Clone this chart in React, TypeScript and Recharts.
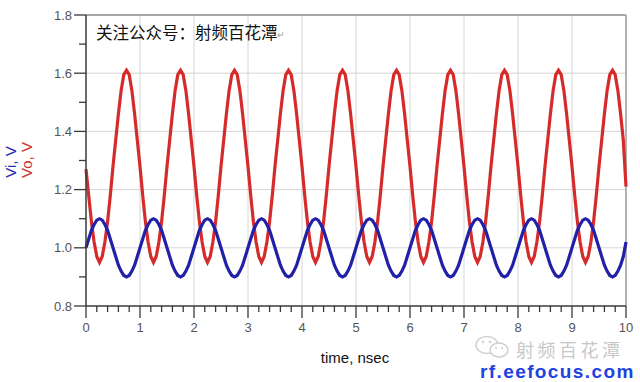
import { Line, LineChart, ReferenceLine, XAxis, YAxis } from "recharts";

// sample spacing of the waveforms, nsec
const timeStep = 0.05;

// Vo, V (red) - one row per nsec
const vo = [
  1.27, 1.18, 1.09, 1.02, 0.97, 0.95, 0.97, 1.02, 1.09, 1.18, 1.28, 1.37, 1.46, 1.54, 1.595, 1.61, 1.595, 1.54, 1.46, 1.37,
  1.28, 1.18, 1.09, 1.02, 0.97, 0.95, 0.97, 1.02, 1.09, 1.18, 1.28, 1.37, 1.46, 1.54, 1.595, 1.61, 1.595, 1.54, 1.46, 1.37,
  1.28, 1.18, 1.09, 1.02, 0.97, 0.95, 0.97, 1.02, 1.09, 1.18, 1.28, 1.37, 1.46, 1.54, 1.595, 1.61, 1.595, 1.54, 1.46, 1.37,
  1.28, 1.18, 1.09, 1.02, 0.97, 0.95, 0.97, 1.02, 1.09, 1.18, 1.28, 1.37, 1.46, 1.54, 1.595, 1.61, 1.595, 1.54, 1.46, 1.37,
  1.28, 1.18, 1.09, 1.02, 0.97, 0.95, 0.97, 1.02, 1.09, 1.18, 1.28, 1.37, 1.46, 1.54, 1.595, 1.61, 1.595, 1.54, 1.46, 1.37,
  1.28, 1.18, 1.09, 1.02, 0.97, 0.95, 0.97, 1.02, 1.09, 1.18, 1.28, 1.37, 1.46, 1.54, 1.595, 1.61, 1.595, 1.54, 1.46, 1.37,
  1.28, 1.18, 1.09, 1.02, 0.97, 0.95, 0.97, 1.02, 1.09, 1.18, 1.28, 1.37, 1.46, 1.54, 1.595, 1.61, 1.595, 1.54, 1.46, 1.37,
  1.28, 1.18, 1.09, 1.02, 0.97, 0.95, 0.97, 1.02, 1.09, 1.18, 1.28, 1.37, 1.46, 1.54, 1.595, 1.61, 1.595, 1.54, 1.46, 1.37,
  1.28, 1.18, 1.09, 1.02, 0.97, 0.95, 0.97, 1.02, 1.09, 1.18, 1.28, 1.37, 1.46, 1.54, 1.595, 1.61, 1.595, 1.54, 1.46, 1.37,
  1.28, 1.18, 1.09, 1.02, 0.97, 0.95, 0.97, 1.02, 1.09, 1.18, 1.28, 1.37, 1.46, 1.54, 1.595, 1.61, 1.595, 1.54, 1.46, 1.37,
  1.21,
];

// Vi, V (blue)
const vi = [
  1.0, 1.03, 1.06, 1.08, 1.095, 1.1, 1.095, 1.08, 1.06, 1.03, 1.0, 0.97, 0.94, 0.92, 0.905, 0.9, 0.905, 0.92, 0.94, 0.97,
  1.0, 1.03, 1.06, 1.08, 1.095, 1.1, 1.095, 1.08, 1.06, 1.03, 1.0, 0.97, 0.94, 0.92, 0.905, 0.9, 0.905, 0.92, 0.94, 0.97,
  1.0, 1.03, 1.06, 1.08, 1.095, 1.1, 1.095, 1.08, 1.06, 1.03, 1.0, 0.97, 0.94, 0.92, 0.905, 0.9, 0.905, 0.92, 0.94, 0.97,
  1.0, 1.03, 1.06, 1.08, 1.095, 1.1, 1.095, 1.08, 1.06, 1.03, 1.0, 0.97, 0.94, 0.92, 0.905, 0.9, 0.905, 0.92, 0.94, 0.97,
  1.0, 1.03, 1.06, 1.08, 1.095, 1.1, 1.095, 1.08, 1.06, 1.03, 1.0, 0.97, 0.94, 0.92, 0.905, 0.9, 0.905, 0.92, 0.94, 0.97,
  1.0, 1.03, 1.06, 1.08, 1.095, 1.1, 1.095, 1.08, 1.06, 1.03, 1.0, 0.97, 0.94, 0.92, 0.905, 0.9, 0.905, 0.92, 0.94, 0.97,
  1.0, 1.03, 1.06, 1.08, 1.095, 1.1, 1.095, 1.08, 1.06, 1.03, 1.0, 0.97, 0.94, 0.92, 0.905, 0.9, 0.905, 0.92, 0.94, 0.97,
  1.0, 1.03, 1.06, 1.08, 1.095, 1.1, 1.095, 1.08, 1.06, 1.03, 1.0, 0.97, 0.94, 0.92, 0.905, 0.9, 0.905, 0.92, 0.94, 0.97,
  1.0, 1.03, 1.06, 1.08, 1.095, 1.1, 1.095, 1.08, 1.06, 1.03, 1.0, 0.97, 0.94, 0.92, 0.905, 0.9, 0.905, 0.92, 0.94, 0.97,
  1.0, 1.03, 1.06, 1.08, 1.095, 1.1, 1.095, 1.08, 1.06, 1.03, 1.0, 0.97, 0.94, 0.92, 0.905, 0.9, 0.905, 0.92, 0.94, 0.97,
  1.02,
];

const xMajorTicks = [0, 1, 2, 3, 4, 5, 6, 7, 8, 9, 10];
const yMajorTicks = [0.8, 1.0, 1.2, 1.4, 1.6, 1.8];
const xGridLines = [1, 2, 3, 4, 5, 6, 7, 8, 9];
const yGridLines = [1.0, 1.2, 1.4, 1.6];

const round = (v: number) => Math.round(v * 1000) / 1000;

// minor ticks: 4 per nsec on x, 1 per 0.2 V on y
const xTicks = xMajorTicks.flatMap((m, i) =>
  i === xMajorTicks.length - 1 ? [m] : [0, 0.2, 0.4, 0.6, 0.8].map((d) => round(m + d))
);
const yTicks = yMajorTicks.flatMap((m, i) =>
  i === yMajorTicks.length - 1 ? [m] : [m, round(m + 0.1)]
);

const data = vo.map((v, i) => ({ t: round(i * timeStep), vo: v, vi: vi[i] }));

const AXIS = "#3a3a3a";
const LABEL = "#555";
const FONT = "'Liberation Sans', Arial, sans-serif";

function XTick(props: any) {
  const { x, y, payload } = props;
  const v = payload.value as number;
  const major = Math.abs(v - Math.round(v)) < 1e-6;
  return (
    <g>
      <line x1={x} x2={x} y1={y} y2={y + (major ? 12 : 6)} stroke={AXIS} strokeWidth={1.3} />
      {major && (
        <text x={x} y={y + 26} textAnchor="middle" fontSize={13} fill={LABEL} fontFamily={FONT}>
          {Math.round(v)}
        </text>
      )}
    </g>
  );
}

function YTick(props: any) {
  const { x, y, payload } = props;
  const v = payload.value as number;
  const major = Math.abs(v * 5 - Math.round(v * 5)) < 1e-6;
  return (
    <g>
      <line x1={x} x2={x - (major ? 12 : 7)} y1={y} y2={y} stroke={AXIS} strokeWidth={1.3} />
      {major && (
        <text x={x - 14} y={y + 4.5} textAnchor="end" fontSize={13} fill={LABEL} fontFamily={FONT}>
          {v.toFixed(1)}
        </text>
      )}
    </g>
  );
}

export default function App() {
  return (
    <div style={{ position: "absolute", left: 0, top: 0, width: 640, height: 382, background: "#fff" }}>
      <LineChart width={640} height={382} data={data} margin={{ top: 15, right: 14, left: 26, bottom: 36 }}>
        {xGridLines.map((g) => (
          <ReferenceLine key={`x${g}`} x={g} stroke="#d6d6d6" strokeWidth={1} />
        ))}
        {yGridLines.map((g) => (
          <ReferenceLine key={`y${g}`} y={g} stroke="#d6d6d6" strokeWidth={1} />
        ))}
        <ReferenceLine y={1.8} stroke="#8a8a8a" strokeWidth={1.5} />
        <ReferenceLine x={10} stroke="#9a9a9a" strokeWidth={1.5} />
        <XAxis
          dataKey="t"
          type="number"
          domain={[0, 10]}
          ticks={xTicks}
          interval={0}
          tickSize={0}
          tickMargin={0}
          tickLine={false}
          tick={(p: any) => <XTick {...p} />}
          axisLine={{ stroke: AXIS, strokeWidth: 1.5 }}
          height={40}
        />
        <YAxis
          type="number"
          domain={[0.8, 1.8]}
          allowDataOverflow
          ticks={yTicks}
          interval={0}
          tickSize={0}
          tickMargin={0}
          tickLine={false}
          tick={(p: any) => <YTick {...p} />}
          axisLine={{ stroke: AXIS, strokeWidth: 1.5 }}
          width={60}
        />
        <Line type="linear" dataKey="vo" stroke="#d62b2b" strokeWidth={3.2} dot={false} isAnimationActive={false} />
        <Line type="linear" dataKey="vi" stroke="#2020a8" strokeWidth={3.2} dot={false} isAnimationActive={false} />
      </LineChart>
      <svg
        width={640}
        height={382}
        style={{ position: "absolute", left: 0, top: 0, pointerEvents: "none" }}
      >
        <text x={96} y={39} fontSize={16.5} fill="#111" fontFamily="'Noto Sans CJK SC', sans-serif">
          关注公众号：射频百花潭
        </text>
        <text x={277} y={38} fontSize={9} fill="#999" fontFamily={FONT}>
          ↵
        </text>
        <text
          x={16}
          y={162}
          textAnchor="middle"
          fontSize={15}
          fill="#2b2bb0"
          fontFamily={FONT}
          transform="rotate(-90 16 162)"
        >
          Vi, V
        </text>
        <text
          x={32}
          y={160}
          textAnchor="middle"
          fontSize={15}
          fill="#cc3333"
          fontFamily={FONT}
          transform="rotate(-90 32 160)"
        >
          Vo, V
        </text>
        <text x={355} y={363} textAnchor="middle" fontSize={15} fill="#111" fontFamily={FONT}>
          time, nsec
        </text>
        <g fill="none" stroke="#cfcfcf" strokeWidth={1.5}>
          <ellipse cx={487} cy={345} rx={11} ry={8.5} />
          <ellipse cx={499} cy={350} rx={9} ry={7} fill="#fff" />
        </g>
        <g fill="#cfcfcf">
          <circle cx={483} cy={342} r={1.3} />
          <circle cx={490} cy={342} r={1.3} />
          <circle cx={496} cy={348} r={1} />
          <circle cx={502} cy={348} r={1} />
        </g>
        <text
          x={516}
          y={357}
          fontSize={18}
          letterSpacing={3.5}
          fill="#c8c8c8"
          fontFamily="'Noto Sans CJK SC', sans-serif"
        >
          射频百花潭
        </text>
        <text
          x={480}
          y={378}
          fontSize={19}
          fontWeight="bold"
          letterSpacing={1.4}
          fill="#2142e0"
          fontFamily={FONT}
        >
          rf.eefocus.com
        </text>
      </svg>
    </div>
  );
}
